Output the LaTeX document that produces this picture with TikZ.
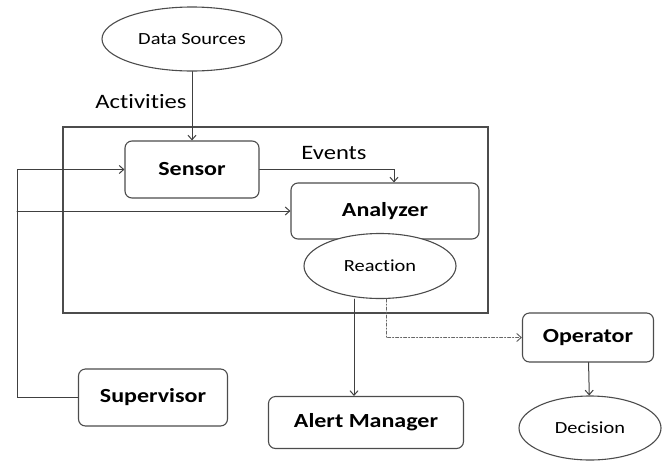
\documentclass[tikz,border=0pt]{standalone}
\usepackage{fontspec}
\setmainfont[FakeStretch=1.2,Ligatures=NoCommon]{Carlito}
\usepackage{tikz}
\usetikzlibrary{arrows.meta,shapes.geometric}

\begin{document}
\begin{tikzpicture}[x=1pt,y=-1pt,>={Straight Barb[length=4.5pt,width=8pt]},line cap=round,
  box/.style={draw=black!70,line width=1.1pt,rounded corners=7pt,inner sep=0pt,font=\fontsize{20}{24}\selectfont\bfseries},
  oval/.style={draw=black!70,line width=1.1pt,ellipse,inner sep=0pt,fill=white,font=\fontsize{17}{20}\selectfont},
  tag/.style={inner sep=0pt,font=\fontsize{20.5}{24}\selectfont},
  link/.style={draw=black!75,line width=1pt,->}]
\useasboundingbox (0,0) rectangle (663,461);
% outer system frame
\node[draw=black!70,line width=1.1pt,minimum width=425,minimum height=186,inner sep=0pt] (sys) at (275.5,220) {};
\node[oval,minimum width=180,minimum height=64] (src) at (192,39) {Data Sources};
\node[tag] (act) at (141,102) {Activities};
\node[box,minimum width=134,minimum height=57] (sensor) at (192,169.5) {Sensor};
\node[tag] (evt) at (334,153) {Events};
\node[box,minimum width=188,minimum height=56] (analyzer) at (385,211) {Analyzer};
\node[oval,minimum width=152,minimum height=65] (reaction) at (380,266) {Reaction};
\node[box,minimum width=149,minimum height=57] (super) at (153,397.5) {Supervisor};
\node[box,minimum width=195,minimum height=52] (alert) at (366,422.5) {Alert Manager};
\node[box,minimum width=131,minimum height=49] (operator) at (588,337.5) {Operator};
\node[oval,minimum width=142,minimum height=64] (decision) at (590,428) {Decision};
% connectors
\draw[link] (src) -- (sensor);
\draw[link] (sensor.east) -| ([xshift=9pt]analyzer.north);
\coordinate (fb) at (17,397.5);
\draw[link] (super.west) -- (fb) |- (sensor.west);
\draw[link] (fb |- analyzer.west) -- (analyzer.west);
\draw[link] ([xshift=-26pt]reaction.south) -- ([xshift=-26pt]reaction.south |- alert.north);
\draw[link,dash dot,draw=black!60] ([xshift=6pt]reaction.south) |- (operator.west);
\draw[link] (operator) -- (decision);
\end{tikzpicture}
\end{document}
